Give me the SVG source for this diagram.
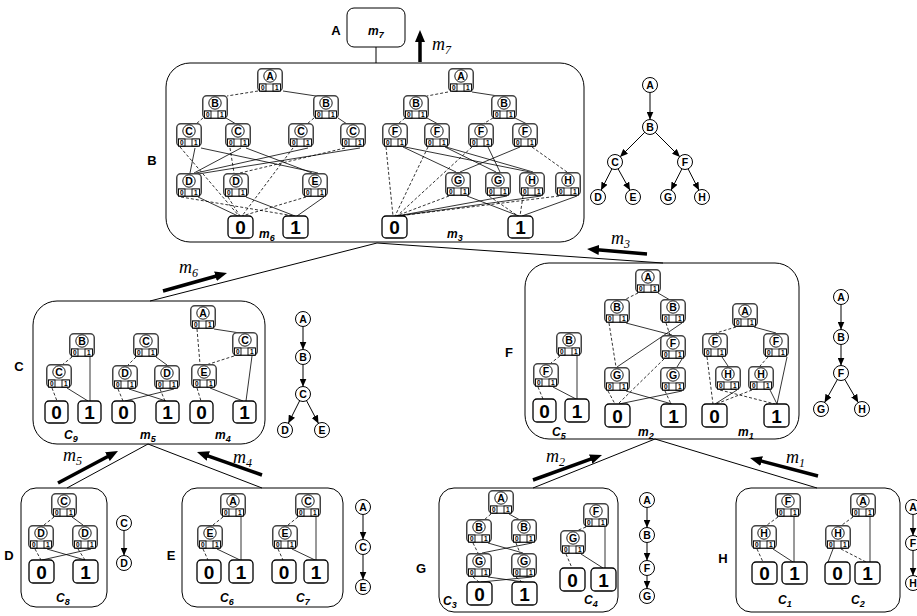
<svg xmlns="http://www.w3.org/2000/svg" xmlns:xlink="http://www.w3.org/1999/xlink" width="917" height="616" viewBox="0 0 917 616">
<style>
text{font-family:"Liberation Sans",Arial,sans-serif}
.lt{font-size:10.5px;font-weight:bold;text-anchor:middle}
.tl{font-size:10.5px;font-weight:bold;text-anchor:middle}
.c{font-size:6.5px;font-weight:bold;text-anchor:middle}
.tt{font-size:19px;font-weight:bold;text-anchor:middle}
.bl{font-size:13px;font-weight:bold;text-anchor:middle}
.ml{font-size:12px;font-weight:bold;font-style:italic}
.mm{font-family:"Liberation Serif","Times New Roman",serif;font-size:18px;font-style:italic}
.d{fill:none;stroke:#000;stroke-width:.8;stroke-dasharray:3 2}
.s{fill:none;stroke:#000;stroke-width:.8}
.bx{fill:none;stroke:#000;stroke-width:1}
.tm{fill:#fff;stroke:#000;stroke-width:1.3}
.tc{fill:#fff;stroke:#000;stroke-width:1}
.ta{fill:none;stroke:#000;stroke-width:1;marker-end:url(#ah)}
.th{fill:none;stroke:#000;stroke-width:3.5;marker-end:url(#bh)}
.ln{fill:none;stroke:#000;stroke-width:1}
</style>
<defs>
<marker id="ah" markerUnits="userSpaceOnUse" markerWidth="8" markerHeight="7" refX="8" refY="3.5" orient="auto"><path d="M0,0 L8,3.5 L0,7 z" fill="#000"/></marker>
<marker id="bh" markerUnits="userSpaceOnUse" markerWidth="12" markerHeight="10" refX="2" refY="5" orient="auto"><path d="M0,0 L12,5 L0,10 z" fill="#000"/></marker>
<g id="nd">
<rect x="0.75" y="0.75" width="24.5" height="22.5" rx="4" fill="#fff" stroke="#444" stroke-width="1.5"/>
<circle cx="13" cy="8" r="6.2" fill="#fff" stroke="#000" stroke-width="0.9"/>
<rect x="2.5" y="16" width="21" height="7" fill="#fff" stroke="#000" stroke-width="0.7"/>
<rect x="2.5" y="16" width="6.5" height="7" fill="#fff" stroke="#000" stroke-width="0.9"/>
<rect x="16" y="16" width="7.5" height="7" fill="#fff" stroke="#000" stroke-width="0.9"/>
<text class="c" x="5.75" y="22">0</text>
<text class="c" x="19.75" y="22">1</text>
</g>
</defs>
<rect width="917" height="616" fill="#fff"/>

<!-- containers -->
<g id="box-A"><rect class="bx" x="347" y="8" width="58" height="39" rx="7"/><text class="ml" x="368" y="35">m<tspan font-size="9" dy="3">7</tspan></text></g>
<g id="box-B"><rect class="bx" x="166" y="63" width="418" height="179" rx="24"/></g>
<g id="box-C"><rect class="bx" x="33" y="301" width="232" height="143" rx="24"/></g>
<g id="box-F"><rect class="bx" x="525" y="263" width="274" height="176" rx="24"/></g>
<g id="box-D"><rect class="bx" x="21" y="488" width="86" height="119" rx="15"/></g>
<g id="box-E"><rect class="bx" x="182" y="488" width="161" height="119" rx="15"/></g>
<g id="box-G"><rect class="bx" x="439" y="488" width="179" height="124" rx="15"/></g>
<g id="box-H"><rect class="bx" x="736" y="488" width="164" height="124" rx="15"/></g>

<g id="box-labels">
<text class="bl" x="336" y="35">A</text>
<text class="bl" x="152" y="165">B</text>
<text class="bl" x="19" y="371">C</text>
<text class="bl" x="509" y="357">F</text>
<text class="bl" x="9" y="560">D</text>
<text class="bl" x="171" y="560">E</text>
<text class="bl" x="421" y="573">G</text>
<text class="bl" x="723" y="563">H</text>
<text class="ml" x="259" y="238">m<tspan font-size="9" dy="3">6</tspan></text>
<text class="ml" x="447" y="238">m<tspan font-size="9" dy="3">3</tspan></text>
<text class="ml" x="64" y="439">C<tspan font-size="9" dy="3">9</tspan></text>
<text class="ml" x="140" y="439">m<tspan font-size="9" dy="3">5</tspan></text>
<text class="ml" x="215" y="439">m<tspan font-size="9" dy="3">4</tspan></text>
<text class="ml" x="552" y="436">C<tspan font-size="9" dy="3">5</tspan></text>
<text class="ml" x="638" y="436">m<tspan font-size="9" dy="3">2</tspan></text>
<text class="ml" x="738" y="436">m<tspan font-size="9" dy="3">1</tspan></text>
<text class="ml" x="56" y="602">C<tspan font-size="9" dy="3">8</tspan></text>
<text class="ml" x="220" y="602">C<tspan font-size="9" dy="3">6</tspan></text>
<text class="ml" x="296" y="602">C<tspan font-size="9" dy="3">7</tspan></text>
<text class="ml" x="443" y="605">C<tspan font-size="9" dy="3">3</tspan></text>
<text class="ml" x="584" y="604">C<tspan font-size="9" dy="3">4</tspan></text>
<text class="ml" x="778" y="604">C<tspan font-size="9" dy="3">1</tspan></text>
<text class="ml" x="851" y="604">C<tspan font-size="9" dy="3">2</tspan></text>
</g>

<g id="connectors">
<!-- hierarchy lines -->
<path class="ln" d="M376 47 L376 63"/>
<path class="ln" d="M150 301 L377 243 L663 263"/>
<path class="ln" d="M67 488 L148 444 L262 488"/>
<path class="ln" d="M533 488 L655 439 L817 488"/>
<!-- message arrows -->
<path class="th" d="M420 62 L420 40"/>
<path class="th" d="M163 291 L217.4 275.7"/>
<path class="th" d="M647 254 L597 249.8"/>
<path class="th" d="M58 483 L109.2 455.7"/>
<path class="th" d="M262 475 L206.4 455.3"/>
<path class="th" d="M533 480 L592.6 458.4"/>
<path class="th" d="M818 476 L759.7 460.6"/>
<!-- B left -->
<path class="d" d="M258 91 L227 96"/>
<path class="s" d="M283 91 L316 96"/>
<path class="d" d="M203 118 L196 124"/>
<path class="s" d="M226 118 L236 124"/>
<path class="d" d="M314 118 L307 124"/>
<path class="s" d="M338 118 L347 124"/>
<path class="d" d="M180 147 L239 216"/>
<path class="s" d="M195 148 L190 173"/>
<path class="s" d="M201 148 L318 173"/>
<path class="s" d="M241 148 L194 173"/>
<path class="s" d="M246 148 L312 173"/>
<path class="d" d="M230 148 L234 173"/>
<path class="s" d="M308 148 L196 173"/>
<path class="d" d="M293 148 L242 216"/>
<path class="s" d="M360 148 L198 174"/>
<path class="d" d="M345 148 L240 173"/>
<path class="d" d="M181 197 L294 216"/>
<path class="s" d="M198 197 L238 216"/>
<path class="d" d="M228 197 L240 216"/>
<path class="s" d="M246 197 L295 216"/>
<path class="d" d="M306 197 L242 216"/>
<path class="s" d="M324 197 L297 216"/>
<!-- B right -->
<path class="d" d="M448 92 L427 96"/>
<path class="s" d="M472 92 L498 96"/>
<path class="d" d="M405 118 L398 124"/>
<path class="s" d="M427 118 L438 124"/>
<path class="d" d="M493 118 L483 124"/>
<path class="s" d="M515 118 L527 124"/>
<path class="d" d="M386 147 L393 216"/>
<path class="s" d="M403 147 L456 172"/>
<path class="s" d="M405 147 L530 172"/>
<path class="d" d="M428 147 L395 216"/>
<path class="s" d="M446 147 L533 172"/>
<path class="s" d="M445 147 L496 172"/>
<path class="d" d="M472 147 L397 216"/>
<path class="s" d="M488 147 L500 172"/>
<path class="s" d="M520 147 L460 172"/>
<path class="d" d="M532 147 L567 172"/>
<path class="d" d="M449 196 L396 216"/>
<path class="s" d="M467 196 L519 216"/>
<path class="d" d="M489 196 L518 216"/>
<path class="s" d="M507 196 L397 216"/>
<path class="d" d="M523 196 L520 216"/>
<path class="s" d="M541 196 L398 216"/>
<path class="d" d="M559 196 L398 216"/>
<path class="s" d="M577 196 L522 216"/>
<!-- C box -->
<path class="d" d="M72 357 L62 365"/>
<path class="s" d="M90 357 L90 401"/>
<path class="d" d="M52 388 L57 401"/>
<path class="s" d="M67 388 L88 401"/>
<path class="d" d="M136 357 L128 365"/>
<path class="s" d="M156 357 L167 365"/>
<path class="d" d="M118 389 L123 401"/>
<path class="s" d="M129 389 L166 401"/>
<path class="d" d="M160 389 L165 401"/>
<path class="s" d="M174 389 L125 401"/>
<path class="d" d="M197 329 L200 364"/>
<path class="s" d="M214 329 L240 333"/>
<path class="d" d="M234 356 L206 365"/>
<path class="s" d="M252 356 L246 401"/>
<path class="d" d="M197 388 L201 401"/>
<path class="s" d="M210 388 L243 401"/>
<!-- F box -->
<path class="d" d="M638 293 L624 300"/>
<path class="s" d="M658 293 L670 300"/>
<path class="d" d="M609 323 L616 367"/>
<path class="s" d="M626 323 L672 335"/>
<path class="d" d="M666 323 L670 335"/>
<path class="s" d="M682 323 L617 367"/>
<path class="d" d="M664 359 L618 404"/>
<path class="s" d="M682 359 L677 367"/>
<path class="d" d="M608 391 L615 404"/>
<path class="s" d="M626 391 L672 404"/>
<path class="d" d="M665 391 L671 404"/>
<path class="s" d="M682 391 L619 404"/>
<path class="d" d="M560 356 L551 363"/>
<path class="s" d="M577 356 L577 399"/>
<path class="d" d="M538 387 L543 399"/>
<path class="s" d="M553 387 L576 399"/>
<path class="d" d="M736 327 L716 333"/>
<path class="s" d="M754 327 L776 333"/>
<path class="d" d="M707 357 L713 404"/>
<path class="s" d="M722 357 L728 366"/>
<path class="d" d="M768 357 L760 366"/>
<path class="s" d="M787 357 L777 404"/>
<path class="d" d="M720 390 L775 404"/>
<path class="s" d="M737 390 L715 404"/>
<path class="d" d="M752 390 L716 404"/>
<path class="s" d="M770 390 L777 404"/>
<!-- D box -->
<path class="d" d="M54 517 L44 525"/>
<path class="s" d="M72 517 L83 525"/>
<path class="d" d="M35 549 L41 560"/>
<path class="s" d="M47 549 L85 560"/>
<path class="d" d="M78 549 L85 560"/>
<path class="s" d="M91 549 L42 560"/>
<!-- E box -->
<path class="d" d="M223 517 L213 525"/>
<path class="s" d="M241 517 L241 560"/>
<path class="d" d="M203 549 L208 560"/>
<path class="s" d="M217 549 L240 560"/>
<path class="d" d="M298 517 L288 525"/>
<path class="s" d="M316 517 L316 560"/>
<path class="d" d="M278 549 L283 560"/>
<path class="s" d="M292 549 L315 560"/>
<!-- G box -->
<path class="d" d="M491 514 L484 520"/>
<path class="s" d="M509 514 L520 520"/>
<path class="d" d="M473 543 L478 553"/>
<path class="s" d="M488 543 L523 553"/>
<path class="d" d="M516 543 L520 553"/>
<path class="s" d="M532 543 L482 553"/>
<path class="d" d="M473 577 L479 582"/>
<path class="s" d="M488 577 L524 582"/>
<path class="d" d="M516 577 L522 582"/>
<path class="s" d="M532 577 L481 582"/>
<path class="d" d="M586 527 L576 531"/>
<path class="s" d="M605 527 L605 568"/>
<path class="d" d="M566 554 L572 568"/>
<path class="s" d="M581 554 L603 568"/>
<!-- H box -->
<path class="d" d="M778 517 L767 525"/>
<path class="s" d="M794 517 L794 562"/>
<path class="d" d="M757 549 L763 562"/>
<path class="s" d="M773 549 L793 562"/>
<path class="d" d="M853 517 L842 525"/>
<path class="s" d="M870 517 L870 562"/>
<path class="d" d="M841 549 L866 562"/>
<path class="s" d="M833 549 L828 562"/>
<!-- variable order trees -->
<path class="ta" d="M650 92.5 L650 119.5"/>
<path class="ta" d="M645 132 L620 157"/>
<path class="ta" d="M655 132 L680 157"/>
<path class="ta" d="M612 168.7 L601 190.3"/>
<path class="ta" d="M618 168.7 L630 190.3"/>
<path class="ta" d="M682 168.7 L671 190.3"/>
<path class="ta" d="M688 168.7 L699 190.3"/>
<path class="ta" d="M303 326.5 L303 349.5"/>
<path class="ta" d="M303 364.5 L303 386.5"/>
<path class="ta" d="M299.7 400.7 L288.3 423.3"/>
<path class="ta" d="M306.5 400.6 L318.5 423.4"/>
<path class="ta" d="M841 304.5 L841 329.5"/>
<path class="ta" d="M841 344.5 L841 365.5"/>
<path class="ta" d="M837.4 379.5 L824.6 402.5"/>
<path class="ta" d="M844.8 379.5 L858.2 402.5"/>
<path class="ta" d="M124 530.5 L124 555.5"/>
<path class="ta" d="M363 514.5 L363 539.5"/>
<path class="ta" d="M363 554.5 L363 579.5"/>
<path class="ta" d="M647 507.5 L647 527.5"/>
<path class="ta" d="M647 542.5 L647 560.5"/>
<path class="ta" d="M647 575.5 L647 588.5"/>
<path class="ta" d="M913 514.5 L913 535.5"/>
<path class="ta" d="M913 550.5 L913 575.5"/>
</g>

<g id="arrow-labels">
<text class="mm" x="432" y="50">m<tspan font-size="12" dy="4">7</tspan></text>
<text class="mm" x="179" y="273">m<tspan font-size="12" dy="4">6</tspan></text>
<text class="mm" x="611" y="244">m<tspan font-size="12" dy="4">3</tspan></text>
<text class="mm" x="63" y="461">m<tspan font-size="12" dy="4">5</tspan></text>
<text class="mm" x="233" y="463">m<tspan font-size="12" dy="4">4</tspan></text>
<text class="mm" x="546" y="462">m<tspan font-size="12" dy="4">2</tspan></text>
<text class="mm" x="786" y="463">m<tspan font-size="12" dy="4">1</tspan></text>
</g>

<!-- B box nodes (left: m6) -->
<g id="b6-A"><use xlink:href="#nd" x="257" y="68"/><text class="lt" x="270" y="79.8">A</text></g>
<g id="b6-B1"><use xlink:href="#nd" x="202" y="95"/><text class="lt" x="215" y="106.8">B</text></g>
<g id="b6-B2"><use xlink:href="#nd" x="313" y="95"/><text class="lt" x="326" y="106.8">B</text></g>
<g id="b6-C1"><use xlink:href="#nd" x="176" y="123"/><text class="lt" x="189" y="134.8">C</text></g>
<g id="b6-C2"><use xlink:href="#nd" x="225" y="123"/><text class="lt" x="238" y="134.8">C</text></g>
<g id="b6-C3"><use xlink:href="#nd" x="288" y="123"/><text class="lt" x="301" y="134.8">C</text></g>
<g id="b6-C4"><use xlink:href="#nd" x="340" y="123"/><text class="lt" x="353" y="134.8">C</text></g>
<g id="b6-D1"><use xlink:href="#nd" x="176" y="173"/><text class="lt" x="189" y="184.8">D</text></g>
<g id="b6-D2"><use xlink:href="#nd" x="223" y="173"/><text class="lt" x="236" y="184.8">D</text></g>
<g id="b6-E"><use xlink:href="#nd" x="302" y="173"/><text class="lt" x="315" y="184.8">E</text></g>
<g id="b6-T0"><rect class="tm" x="228" y="216" width="25" height="22" rx="4"/><text class="tt" x="240.5" y="234">0</text></g>
<g id="b6-T1"><rect class="tm" x="283" y="216" width="25" height="22" rx="4"/><text class="tt" x="295.5" y="234">1</text></g>
<!-- B box nodes (right: m3) -->
<g id="b3-A"><use xlink:href="#nd" x="448" y="68"/><text class="lt" x="461" y="79.8">A</text></g>
<g id="b3-B1"><use xlink:href="#nd" x="403" y="95"/><text class="lt" x="416" y="106.8">B</text></g>
<g id="b3-B2"><use xlink:href="#nd" x="491" y="95"/><text class="lt" x="504" y="106.8">B</text></g>
<g id="b3-F1"><use xlink:href="#nd" x="382" y="123"/><text class="lt" x="395" y="134.8">F</text></g>
<g id="b3-F2"><use xlink:href="#nd" x="424" y="123"/><text class="lt" x="437" y="134.8">F</text></g>
<g id="b3-F3"><use xlink:href="#nd" x="468" y="123"/><text class="lt" x="481" y="134.8">F</text></g>
<g id="b3-F4"><use xlink:href="#nd" x="512" y="123"/><text class="lt" x="525" y="134.8">F</text></g>
<g id="b3-G1"><use xlink:href="#nd" x="445" y="172"/><text class="lt" x="458" y="183.8">G</text></g>
<g id="b3-G2"><use xlink:href="#nd" x="485" y="172"/><text class="lt" x="498" y="183.8">G</text></g>
<g id="b3-H1"><use xlink:href="#nd" x="519" y="172"/><text class="lt" x="532" y="183.8">H</text></g>
<g id="b3-H2"><use xlink:href="#nd" x="555" y="172"/><text class="lt" x="568" y="183.8">H</text></g>
<g id="b3-T0"><rect class="tm" x="382" y="216" width="25" height="22" rx="4"/><text class="tt" x="394.5" y="234">0</text></g>
<g id="b3-T1"><rect class="tm" x="508" y="216" width="25" height="22" rx="4"/><text class="tt" x="520.5" y="234">1</text></g>

<!-- C box nodes -->
<g id="c9-B"><use xlink:href="#nd" x="69" y="333"/><text class="lt" x="82" y="344.8">B</text></g>
<g id="c9-C"><use xlink:href="#nd" x="46" y="364"/><text class="lt" x="59" y="375.8">C</text></g>
<g id="c9-T0"><rect class="tm" x="45" y="401" width="23" height="22" rx="4"/><text class="tt" x="56.5" y="419">0</text></g>
<g id="c9-T1"><rect class="tm" x="78" y="401" width="23" height="22" rx="4"/><text class="tt" x="89.5" y="419">1</text></g>
<g id="m5-C"><use xlink:href="#nd" x="133" y="333"/><text class="lt" x="146" y="344.8">C</text></g>
<g id="m5-D1"><use xlink:href="#nd" x="112" y="365"/><text class="lt" x="125" y="376.8">D</text></g>
<g id="m5-D2"><use xlink:href="#nd" x="154" y="365"/><text class="lt" x="167" y="376.8">D</text></g>
<g id="m5-T0"><rect class="tm" x="112" y="401" width="23" height="22" rx="4"/><text class="tt" x="123.5" y="419">0</text></g>
<g id="m5-T1"><rect class="tm" x="156" y="401" width="23" height="22" rx="4"/><text class="tt" x="167.5" y="419">1</text></g>
<g id="m4-A"><use xlink:href="#nd" x="190" y="305"/><text class="lt" x="203" y="316.8">A</text></g>
<g id="m4-C"><use xlink:href="#nd" x="232" y="332"/><text class="lt" x="245" y="343.8">C</text></g>
<g id="m4-E"><use xlink:href="#nd" x="191" y="364"/><text class="lt" x="204" y="375.8">E</text></g>
<g id="m4-T0"><rect class="tm" x="190" y="401" width="23" height="22" rx="4"/><text class="tt" x="201.5" y="419">0</text></g>
<g id="m4-T1"><rect class="tm" x="233" y="401" width="23" height="22" rx="4"/><text class="tt" x="244.5" y="419">1</text></g>

<!-- F box nodes -->
<g id="c5-B"><use xlink:href="#nd" x="556" y="332"/><text class="lt" x="569" y="343.8">B</text></g>
<g id="c5-F"><use xlink:href="#nd" x="533" y="363"/><text class="lt" x="546" y="374.8">F</text></g>
<g id="c5-T0"><rect class="tm" x="533" y="399" width="23" height="23" rx="4"/><text class="tt" x="544.5" y="418">0</text></g>
<g id="c5-T1"><rect class="tm" x="565" y="399" width="24" height="23" rx="4"/><text class="tt" x="577" y="418">1</text></g>
<g id="m2-A"><use xlink:href="#nd" x="635" y="269"/><text class="lt" x="648" y="280.8">A</text></g>
<g id="m2-B1"><use xlink:href="#nd" x="604" y="299"/><text class="lt" x="617" y="310.8">B</text></g>
<g id="m2-B2"><use xlink:href="#nd" x="660" y="299"/><text class="lt" x="673" y="310.8">B</text></g>
<g id="m2-F"><use xlink:href="#nd" x="660" y="335"/><text class="lt" x="673" y="346.8">F</text></g>
<g id="m2-G1"><use xlink:href="#nd" x="604" y="367"/><text class="lt" x="617" y="378.8">G</text></g>
<g id="m2-G2"><use xlink:href="#nd" x="660" y="367"/><text class="lt" x="673" y="378.8">G</text></g>
<g id="m2-T0"><rect class="tm" x="605" y="404" width="25" height="23" rx="4"/><text class="tt" x="617.5" y="423">0</text></g>
<g id="m2-T1"><rect class="tm" x="661" y="404" width="25" height="23" rx="4"/><text class="tt" x="673.5" y="423">1</text></g>
<g id="m1-A"><use xlink:href="#nd" x="732" y="303"/><text class="lt" x="745" y="314.8">A</text></g>
<g id="m1-F1"><use xlink:href="#nd" x="702" y="333"/><text class="lt" x="715" y="344.8">F</text></g>
<g id="m1-F2"><use xlink:href="#nd" x="763" y="333"/><text class="lt" x="776" y="344.8">F</text></g>
<g id="m1-H1"><use xlink:href="#nd" x="715" y="366"/><text class="lt" x="728" y="377.8">H</text></g>
<g id="m1-H2"><use xlink:href="#nd" x="748" y="366"/><text class="lt" x="761" y="377.8">H</text></g>
<g id="m1-T0"><rect class="tm" x="702" y="404" width="25" height="23" rx="4"/><text class="tt" x="714.5" y="423">0</text></g>
<g id="m1-T1"><rect class="tm" x="764" y="404" width="25" height="23" rx="4"/><text class="tt" x="776.5" y="423">1</text></g>

<!-- D box nodes -->
<g id="c8-C"><use xlink:href="#nd" x="51" y="493"/><text class="lt" x="64" y="504.8">C</text></g>
<g id="c8-D1"><use xlink:href="#nd" x="28" y="525"/><text class="lt" x="41" y="536.8">D</text></g>
<g id="c8-D2"><use xlink:href="#nd" x="72" y="525"/><text class="lt" x="85" y="536.8">D</text></g>
<g id="c8-T0"><rect class="tm" x="29" y="560" width="25" height="23" rx="4"/><text class="tt" x="41.5" y="579">0</text></g>
<g id="c8-T1"><rect class="tm" x="73" y="560" width="25" height="23" rx="4"/><text class="tt" x="85.5" y="579">1</text></g>

<!-- E box nodes -->
<g id="c6-A"><use xlink:href="#nd" x="220" y="493"/><text class="lt" x="233" y="504.8">A</text></g>
<g id="c6-E"><use xlink:href="#nd" x="197" y="525"/><text class="lt" x="210" y="536.8">E</text></g>
<g id="c6-T0"><rect class="tm" x="197" y="560" width="24" height="23" rx="4"/><text class="tt" x="209" y="579">0</text></g>
<g id="c6-T1"><rect class="tm" x="229" y="560" width="24" height="23" rx="4"/><text class="tt" x="241" y="579">1</text></g>
<g id="c7-C"><use xlink:href="#nd" x="295" y="493"/><text class="lt" x="308" y="504.8">C</text></g>
<g id="c7-E"><use xlink:href="#nd" x="272" y="525"/><text class="lt" x="285" y="536.8">E</text></g>
<g id="c7-T0"><rect class="tm" x="272" y="560" width="24" height="23" rx="4"/><text class="tt" x="284" y="579">0</text></g>
<g id="c7-T1"><rect class="tm" x="304" y="560" width="24" height="23" rx="4"/><text class="tt" x="316" y="579">1</text></g>

<!-- G box nodes -->
<g id="c3-A"><use xlink:href="#nd" x="488" y="490"/><text class="lt" x="501" y="501.8">A</text></g>
<g id="c3-B1"><use xlink:href="#nd" x="466" y="519"/><text class="lt" x="479" y="530.8">B</text></g>
<g id="c3-B2"><use xlink:href="#nd" x="511" y="519"/><text class="lt" x="524" y="530.8">B</text></g>
<g id="c3-G1"><use xlink:href="#nd" x="466" y="553"/><text class="lt" x="479" y="564.8">G</text></g>
<g id="c3-G2"><use xlink:href="#nd" x="511" y="553"/><text class="lt" x="524" y="564.8">G</text></g>
<g id="c3-T0"><rect class="tm" x="467" y="582" width="25" height="23" rx="4"/><text class="tt" x="479.5" y="601">0</text></g>
<g id="c3-T1"><rect class="tm" x="512" y="582" width="25" height="23" rx="4"/><text class="tt" x="524.5" y="601">1</text></g>
<g id="c4-F"><use xlink:href="#nd" x="583" y="503"/><text class="lt" x="596" y="514.8">F</text></g>
<g id="c4-G"><use xlink:href="#nd" x="560" y="530"/><text class="lt" x="573" y="541.8">G</text></g>
<g id="c4-T0"><rect class="tm" x="560" y="568" width="25" height="23" rx="4"/><text class="tt" x="572.5" y="587">0</text></g>
<g id="c4-T1"><rect class="tm" x="591" y="568" width="25" height="23" rx="4"/><text class="tt" x="603.5" y="587">1</text></g>

<!-- H box nodes -->
<g id="c1-F"><use xlink:href="#nd" x="775" y="493"/><text class="lt" x="788" y="504.8">F</text></g>
<g id="c1-H"><use xlink:href="#nd" x="751" y="525"/><text class="lt" x="764" y="536.8">H</text></g>
<g id="c1-T0"><rect class="tm" x="752" y="562" width="25" height="22" rx="4"/><text class="tt" x="764.5" y="580">0</text></g>
<g id="c1-T1"><rect class="tm" x="782" y="562" width="25" height="22" rx="4"/><text class="tt" x="794.5" y="580">1</text></g>
<g id="c2-A"><use xlink:href="#nd" x="850" y="493"/><text class="lt" x="863" y="504.8">A</text></g>
<g id="c2-H"><use xlink:href="#nd" x="825" y="525"/><text class="lt" x="838" y="536.8">H</text></g>
<g id="c2-T0"><rect class="tm" x="825" y="562" width="25" height="22" rx="4"/><text class="tt" x="837.5" y="580">0</text></g>
<g id="c2-T1"><rect class="tm" x="855" y="562" width="25" height="22" rx="4"/><text class="tt" x="867.5" y="580">1</text></g>

<!-- variable order trees -->
<g id="tB">
<circle class="tc" cx="650" cy="85" r="7.5"/><text class="tl" x="650" y="88.8">A</text>
<circle class="tc" cx="650" cy="127" r="7.5"/><text class="tl" x="650" y="130.8">B</text>
<circle class="tc" cx="615" cy="162" r="7.5"/><text class="tl" x="615" y="165.8">C</text>
<circle class="tc" cx="685" cy="162" r="7.5"/><text class="tl" x="685" y="165.8">F</text>
<circle class="tc" cx="598" cy="197" r="7.5"/><text class="tl" x="598" y="200.8">D</text>
<circle class="tc" cx="633" cy="197" r="7.5"/><text class="tl" x="633" y="200.8">E</text>
<circle class="tc" cx="668" cy="197" r="7.5"/><text class="tl" x="668" y="200.8">G</text>
<circle class="tc" cx="702" cy="197" r="7.5"/><text class="tl" x="702" y="200.8">H</text>
</g>
<g id="tC">
<circle class="tc" cx="303" cy="319" r="7.5"/><text class="tl" x="303" y="322.8">A</text>
<circle class="tc" cx="303" cy="357" r="7.5"/><text class="tl" x="303" y="360.8">B</text>
<circle class="tc" cx="303" cy="394" r="7.5"/><text class="tl" x="303" y="397.8">C</text>
<circle class="tc" cx="285" cy="430" r="7.5"/><text class="tl" x="285" y="433.8">D</text>
<circle class="tc" cx="322" cy="430" r="7.5"/><text class="tl" x="322" y="433.8">E</text>
</g>
<g id="tF">
<circle class="tc" cx="841" cy="297" r="7.5"/><text class="tl" x="841" y="300.8">A</text>
<circle class="tc" cx="841" cy="337" r="7.5"/><text class="tl" x="841" y="340.8">B</text>
<circle class="tc" cx="841" cy="373" r="7.5"/><text class="tl" x="841" y="376.8">F</text>
<circle class="tc" cx="821" cy="409" r="7.5"/><text class="tl" x="821" y="412.8">G</text>
<circle class="tc" cx="862" cy="409" r="7.5"/><text class="tl" x="862" y="412.8">H</text>
</g>
<g id="tD">
<circle class="tc" cx="124" cy="523" r="7.5"/><text class="tl" x="124" y="526.8">C</text>
<circle class="tc" cx="124" cy="563" r="7.5"/><text class="tl" x="124" y="566.8">D</text>
</g>
<g id="tE">
<circle class="tc" cx="363" cy="507" r="7.5"/><text class="tl" x="363" y="510.8">A</text>
<circle class="tc" cx="363" cy="547" r="7.5"/><text class="tl" x="363" y="550.8">C</text>
<circle class="tc" cx="363" cy="587" r="7.5"/><text class="tl" x="363" y="590.8">E</text>
</g>
<g id="tG">
<circle class="tc" cx="647" cy="500" r="7.5"/><text class="tl" x="647" y="503.8">A</text>
<circle class="tc" cx="647" cy="535" r="7.5"/><text class="tl" x="647" y="538.8">B</text>
<circle class="tc" cx="647" cy="568" r="7.5"/><text class="tl" x="647" y="571.8">F</text>
<circle class="tc" cx="647" cy="596" r="7.5"/><text class="tl" x="647" y="599.8">G</text>
</g>
<g id="tH">
<circle class="tc" cx="913" cy="507" r="7.5"/><text class="tl" x="913" y="510.8">A</text>
<circle class="tc" cx="913" cy="543" r="7.5"/><text class="tl" x="913" y="546.8">F</text>
<circle class="tc" cx="913" cy="583" r="7.5"/><text class="tl" x="913" y="586.8">H</text>
</g>
</svg>
